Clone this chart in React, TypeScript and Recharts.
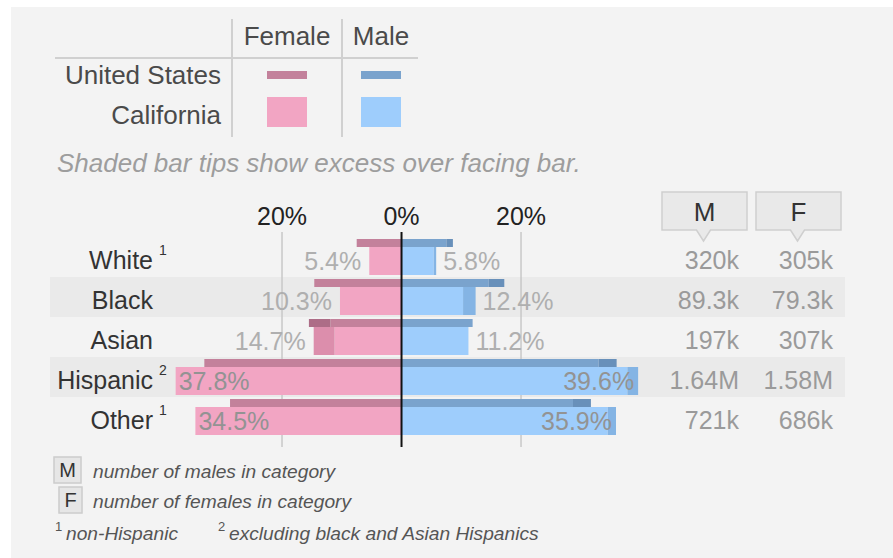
import React from "react";
import {
  BarChart,
  Bar,
  XAxis,
  YAxis,
  ReferenceArea,
  ReferenceLine,
  LabelList,
} from "recharts";

const categories = ["White", "Black", "Asian", "Hispanic", "Other"];
const footnoteMarks = ["1", "", "", "2", "1"];
const caFemale = [5.4, 10.3, 14.7, 37.8, 34.5];
const caMale = [5.8, 12.4, 11.2, 39.6, 35.9];
const usFemale = [7.5, 14.6, 15.5, 33.0, 28.7];
const usMale = [8.6, 17.2, 11.9, 36.0, 31.7];
const maleCounts = ["320k", "89.3k", "197k", "1.64M", "721k"];
const femaleCounts = ["305k", "79.3k", "307k", "1.58M", "686k"];
const stripedRows = ["Black", "Hispanic"];
const xTicks = [-20, 0, 20];
const gridTicks = [-20, 20];

const FONT = "'Liberation Sans', Arial, sans-serif";

const COLORS = {
  caF: "#f2a5c3",
  caFTip: "#dc8eac",
  usF: "#c3819b",
  usFTip: "#ad6d87",
  caM: "#9ecdfc",
  caMTip: "#84b4e4",
  usM: "#7aa3cd",
  usMTip: "#6890ba",
};

const data = categories.map((cat, i) => {
  const caMin = Math.min(caFemale[i], caMale[i]);
  const usMin = Math.min(usFemale[i], usMale[i]);
  const fTipped = caFemale[i] > caMale[i];
  const mTipped = caMale[i] > caFemale[i];
  return {
    cat,
    usFBase: -usMin,
    usFTip: -(usFemale[i] - usMin),
    usMBase: usMin,
    usMTip: usMale[i] - usMin,
    caFBase: -caMin,
    caFTip: -(caFemale[i] - caMin),
    caMBase: caMin,
    caMTip: caMale[i] - caMin,
    fBaseLabel: fTipped ? null : caFemale[i],
    fTipLabel: fTipped ? caFemale[i] : null,
    mBaseLabel: mTipped ? null : caMale[i],
    mTipLabel: mTipped ? caMale[i] : null,
  };
});

const pctLabel = (side: "f" | "m") => (props: any) => {
  const { value } = props;
  if (value === null || value === undefined) return null;
  const vb = props.viewBox || {};
  const x = props.x ?? vb.x;
  const y = props.y ?? vb.y;
  const width = props.width ?? vb.width;
  const height = props.height ?? vb.height;
  const left = Math.min(x, x + width);
  const right = Math.max(x, x + width);
  const cy = y + height / 2;
  const inside = value > 25;
  let tx: number;
  let anchor: "start" | "end";
  if (side === "f") {
    tx = inside ? left + 3 : left - 8;
    anchor = inside ? "start" : "end";
  } else {
    tx = inside ? right - 4 : right + 7;
    anchor = inside ? "end" : "start";
  }
  return (
    <text
      x={tx}
      y={cy}
      dy="0.35em"
      textAnchor={anchor}
      fontFamily={FONT}
      fontSize={25}
      fill={inside ? "#939393" : "#afafaf"}
    >
      {value.toFixed(1)}%
    </text>
  );
};

const RowTick = (props: any) => {
  const { y, payload } = props;
  const i = categories.indexOf(payload.value);
  const ty = y + 3;
  return (
    <g fontFamily={FONT} fontSize={25}>
      <text x={104} y={ty} dy="0.35em" textAnchor="end" fill="#333">
        {payload.value}
      </text>
      {footnoteMarks[i] ? (
        <text x={110} y={ty - 10} dy="0.35em" fontSize={14} fill="#333">
          {footnoteMarks[i]}
        </text>
      ) : null}
      <text x={690} y={ty} dy="0.35em" textAnchor="end" fill="#9a9a9a">
        {maleCounts[i]}
      </text>
      <text x={784} y={ty} dy="0.35em" textAnchor="end" fill="#9a9a9a">
        {femaleCounts[i]}
      </text>
    </g>
  );
};

const HeaderBox = ({ x, letter }: { x: number; letter: string }) => {
  const w = 85;
  const cx = x + w / 2 - 1;
  return (
    <g>
      <path
        d={`M${x} 192 H${x + w} V230 H${cx + 7} L${cx} 241 L${cx - 7} 230 H${x} Z`}
        fill="#e9e9e9"
        stroke="#cfcfcf"
        strokeWidth={1.5}
      />
      <text x={cx + 1} y={221} textAnchor="middle" fontSize={26} fill="#333">
        {letter}
      </text>
    </g>
  );
};

const Decorations = () => (
  <svg
    width={893}
    height={558}
    style={{ position: "absolute", left: 0, top: 0 }}
    fontFamily={FONT}
  >
    <rect x={0} y={0} width={893} height={558} fill="#ffffff" />
    <rect x={11} y={7} width={882} height={551} fill="#f3f3f3" />

    {/* legend table */}
    <line x1={232} y1={19} x2={232} y2={137} stroke="#d0d0d0" strokeWidth={2} />
    <line x1={342} y1={19} x2={342} y2={137} stroke="#d0d0d0" strokeWidth={2} />
    <line x1={55} y1={58} x2={418} y2={58} stroke="#d0d0d0" strokeWidth={2} />
    <text x={287} y={45} textAnchor="middle" fontSize={26} fill="#4a4a4a">
      Female
    </text>
    <text x={381} y={45} textAnchor="middle" fontSize={26} fill="#4a4a4a">
      Male
    </text>
    <text x={221} y={84} textAnchor="end" fontSize={26} fill="#4a4a4a">
      United States
    </text>
    <text x={221} y={124} textAnchor="end" fontSize={26} fill="#4a4a4a">
      California
    </text>
    <rect x={267} y={71} width={40} height={8} fill={COLORS.usF} />
    <rect x={361} y={71} width={40} height={8} fill={COLORS.usM} />
    <rect x={267} y={97} width={40} height={30} fill={COLORS.caF} />
    <rect x={361} y={97} width={40} height={30} fill={COLORS.caM} />

    <text x={57} y={172} fontSize={26} fontStyle="italic" fill="#9d9d9d">
      Shaded bar tips show excess over facing bar.
    </text>

    <HeaderBox x={662} letter="M" />
    <HeaderBox x={756} letter="F" />

    {/* footer */}
    <rect x={54} y={457} width={27} height={26} fill="#e6e6e6" stroke="#cccccc" strokeWidth={1.5} />
    <text x={67.5} y={477} textAnchor="middle" fontSize={20} fill="#333">
      M
    </text>
    <rect x={59} y={487} width={23} height={26} fill="#e6e6e6" stroke="#cccccc" strokeWidth={1.5} />
    <text x={70.5} y={507} textAnchor="middle" fontSize={20} fill="#333">
      F
    </text>
    <text x={93} y={478} fontSize={19.2} fontStyle="italic" fill="#555">
      number of males in category
    </text>
    <text x={93} y={508} fontSize={19.2} fontStyle="italic" fill="#555">
      number of females in category
    </text>
    <text x={55} y={531} fontSize={13} fill="#555">
      1
    </text>
    <text x={66} y={540} fontSize={19.2} fontStyle="italic" fill="#555">
      non-Hispanic
    </text>
    <text x={218} y={531} fontSize={13} fill="#555">
      2
    </text>
    <text x={229} y={540} fontSize={19.2} fontStyle="italic" fill="#555">
      excluding black and Asian Hispanics
    </text>
  </svg>
);

export default function App() {
  return (
    <div
      style={{
        position: "absolute",
        left: 0,
        top: 0,
        width: 893,
        height: 558,
        overflow: "hidden",
        background: "#fff",
      }}
    >
      <Decorations />
      <div style={{ position: "absolute", left: 49, top: 190 }}>
        <BarChart
          width={796}
          height={262}
          data={data}
          layout="vertical"
          stackOffset="sign"
          barGap={0}
          margin={{ top: 0, right: 0, bottom: 5, left: 0 }}
        >
          {stripedRows.map((c) => (
            <ReferenceArea
              key={c}
              y1={c}
              y2={c}
              fill="#eaeaea"
              fillOpacity={1}
              stroke="none"
              zIndex={-200}
            />
          ))}
          {gridTicks.map((t) => (
            <ReferenceLine
              key={t}
              x={t}
              stroke="#c8c8c8"
              strokeWidth={1.5}
              zIndex={-100}
            />
          ))}
          <XAxis
            type="number"
            orientation="top"
            domain={[-58.83, 74.22]}
            ticks={xTicks}
            height={42}
            axisLine={false}
            tickLine={false}
            tickSize={5}
            tickMargin={2}
            tickFormatter={(v: number) => `${Math.abs(v)}%`}
            tick={{ fill: "#222", fontSize: 25, fontFamily: FONT }}
          />
          <YAxis
            type="category"
            dataKey="cat"
            width={1}
            axisLine={false}
            tickLine={false}
            padding={{ top: 5, bottom: 10 }}
            tick={RowTick}
            interval={0}
          />
          <Bar dataKey="usFBase" stackId="us" barSize={8} fill={COLORS.usF} isAnimationActive={false} />
          <Bar dataKey="usFTip" stackId="us" barSize={8} fill={COLORS.usFTip} isAnimationActive={false} />
          <Bar dataKey="usMBase" stackId="us" barSize={8} fill={COLORS.usM} isAnimationActive={false} />
          <Bar dataKey="usMTip" stackId="us" barSize={8} fill={COLORS.usMTip} isAnimationActive={false} />
          <Bar dataKey="caFBase" stackId="ca" barSize={28} fill={COLORS.caF} isAnimationActive={false}>
            <LabelList dataKey="fBaseLabel" content={pctLabel("f")} />
          </Bar>
          <Bar dataKey="caFTip" stackId="ca" barSize={28} fill={COLORS.caFTip} isAnimationActive={false}>
            <LabelList dataKey="fTipLabel" content={pctLabel("f")} />
          </Bar>
          <Bar dataKey="caMBase" stackId="ca" barSize={28} fill={COLORS.caM} isAnimationActive={false}>
            <LabelList dataKey="mBaseLabel" content={pctLabel("m")} />
          </Bar>
          <Bar dataKey="caMTip" stackId="ca" barSize={28} fill={COLORS.caMTip} isAnimationActive={false}>
            <LabelList dataKey="mTipLabel" content={pctLabel("m")} />
          </Bar>
          <ReferenceLine x={0} stroke="#111" strokeWidth={2} zIndex={450} />
        </BarChart>
      </div>
    </div>
  );
}
